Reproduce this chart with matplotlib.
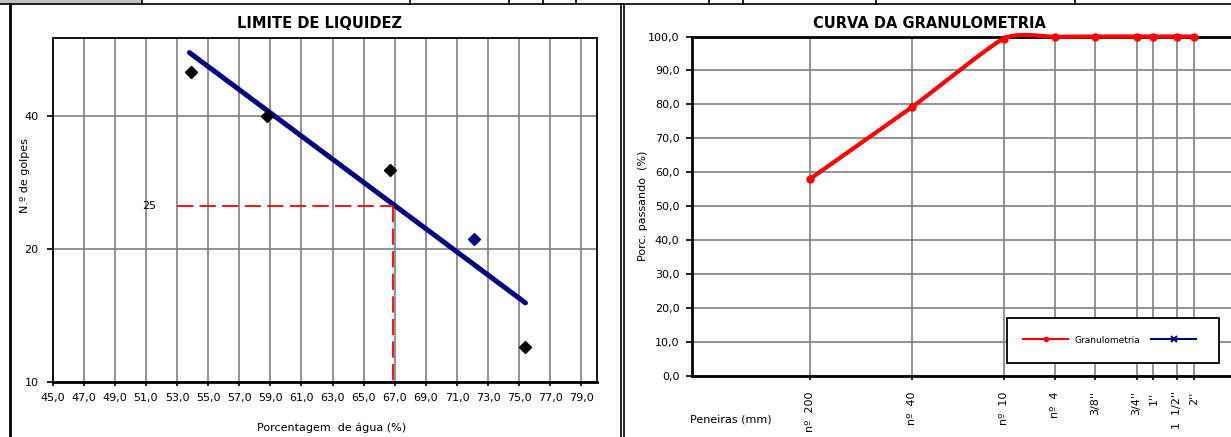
import numpy as np
import matplotlib
matplotlib.use("Agg")
import matplotlib.pyplot as plt
from matplotlib.lines import Line2D
from matplotlib.patches import Rectangle

# Limite de liquidez
umidade = [53.9, 58.8, 66.7, 75.4]
golpes = [50.3, 40.0, 30.2, 12.0]
umidade_extra = [72.1]
golpes_extra = [21.1]
trend_x = [53.8, 75.4]
trend_y = [55.6, 15.1]
ll_golpes = 25
ll_umidade = 66.9
ll_inicio = 53.0
x_ticks_ll = np.arange(45, 80, 2)

# Granulometria
peneiras = ["nº  200", "nº  40", "nº  10", "nº  4", "3/8''", "3/4''", "1''", "1  1/2''", "2''"]
aberturas = [0.074, 0.42, 2.0, 4.8, 9.5, 19.1, 25.4, 38.1, 50.8]
passando = [58.0, 79.2, 99.4, 99.9, 100.0, 100.0, 100.0, 100.0, 100.0]

W, H = 1231, 437
GRAY = "#808080"
NAVY = "#000080"


def smooth_curve(xs, ys, n=24, k=10):
    """Excel-like smoothed line (bezier through the points) in log10(x) space."""
    lx = np.log10(xs)
    ys = np.asarray(ys, float)
    px = np.concatenate([[lx[0]], lx, [lx[-1]]])
    py = np.concatenate([[ys[0]], ys, [ys[-1]]])
    out_x, out_y = [], []
    t = np.linspace(0, 1, n)
    for i in range(1, len(px) - 2):
        p0 = np.array([px[i], py[i]])
        p3 = np.array([px[i + 1], py[i + 1]])
        c1 = p0 + (np.array([px[i + 1], py[i + 1]]) - np.array([px[i - 1], py[i - 1]])) / k
        c2 = p3 - (np.array([px[i + 2], py[i + 2]]) - np.array([px[i], py[i]])) / k
        b = ((1 - t) ** 3)[:, None] * p0 + (3 * (1 - t) ** 2 * t)[:, None] * c1 \
            + (3 * (1 - t) * t ** 2)[:, None] * c2 + (t ** 3)[:, None] * p3
        out_x.extend(b[:, 0])
        out_y.extend(b[:, 1])
    return 10 ** np.array(out_x), np.array(out_y)


plt.rcParams["font.family"] = "DejaVu Sans"
fig = plt.figure(figsize=(W / 100, H / 100), dpi=100)

# ---------- LIMITE DE LIQUIDEZ ----------
ax1 = fig.add_axes([52.6 / W, 1 - 382 / H, (597 - 52.6) / W, 344 / H])
ax1.set_yscale("log")
ax1.set_xlim(45, 80)
ax1.set_ylim(10, 60)
ax1.set_xticks(x_ticks_ll)
ax1.set_xticklabels([f"{v:.1f}".replace(".", ",") for v in x_ticks_ll], fontsize=8)
ax1.set_yticks([10, 20, 40])
ax1.set_yticklabels(["10", "20", "40"], fontsize=8)
ax1.yaxis.set_minor_locator(matplotlib.ticker.NullLocator())
ax1.grid(True, color=GRAY, lw=1.2)
ax1.tick_params(axis="y", length=4, width=1.2, pad=6)
ax1.tick_params(axis="x", length=3, width=1.2, pad=5)
for s in ax1.spines.values():
    s.set_color("black")
    s.set_linewidth(1.3)
ax1.spines["bottom"].set_linewidth(2)

ax1.plot(trend_x, trend_y, color=NAVY, lw=3.6, solid_capstyle="round", zorder=3)
ax1.plot(umidade, golpes, "D", color="black", ms=6, zorder=4)
ax1.plot(umidade_extra, golpes_extra, "D", color=NAVY, ms=6, zorder=4)
ax1.plot([ll_inicio, ll_umidade], [ll_golpes, ll_golpes], color="red", lw=1.3,
         dashes=(9, 3.5), zorder=3)
ax1.plot([ll_umidade, ll_umidade], [ll_golpes, 10], color="red", lw=1.3,
         dashes=(9, 3.5), zorder=3)
ax1.text(51.2, ll_golpes, "25", fontsize=8, ha="center", va="center")

ax1.set_xlabel("Porcentagem  de água (%)", fontsize=8)
ax1.xaxis.set_label_coords(0.513, -0.119)
ax1.set_ylabel("N.º de golpes", fontsize=8)
ax1.yaxis.set_label_coords(-0.0415, 0.599)
fig.text(320 / W, 1 - 24 / H, "LIMITE DE LIQUIDEZ", fontsize=10.5,
         fontweight="bold", ha="center", va="center")

# ---------- CURVA DA GRANULOMETRIA ----------
ax2 = fig.add_axes([692 / W, 1 - 376 / H, 542 / W, 339.5 / H])
ax2.set_xscale("log")
ax2.set_xlim(0.01, 100)
ax2.set_ylim(0, 100)
ax2.set_xticks(aberturas)
ax2.set_xticklabels(peneiras, rotation=90, fontsize=8)
ax2.xaxis.set_minor_locator(matplotlib.ticker.NullLocator())
ax2.set_yticks(np.arange(0, 101, 10))
ax2.set_yticklabels([f"{v:.1f}".replace(".", ",") for v in np.arange(0, 101, 10)],
                    fontsize=8)
ax2.grid(True, color=GRAY, lw=1.2)
ax2.tick_params(axis="y", length=4, width=1.2, pad=5)
ax2.tick_params(axis="x", length=3, width=1.2, pad=8)
for s in ax2.spines.values():
    s.set_color("black")
    s.set_linewidth(2)

sx, sy = smooth_curve(aberturas, passando)
ax2.plot(sx, sy, color="red", lw=3, solid_capstyle="round", zorder=3, clip_on=False)
ax2.plot(aberturas, passando, "o", color="red", ms=5, zorder=4, clip_on=False)

ax2.set_ylabel("Porc. passando  (%)", fontsize=8)
ax2.yaxis.set_label_coords(-0.081, 0.5)
fig.text(690 / W, 1 - 419 / H, "Peneiras (mm)", fontsize=8, ha="left", va="center")
fig.text(929 / W, 1 - 24 / H, "CURVA DA GRANULOMETRIA", fontsize=10.5,
         fontweight="bold", ha="center", va="center")

h1 = Line2D([], [], color="red", lw=1.5, marker="o", ms=3)
h2 = Line2D([], [], color=NAVY, lw=1.5, marker="x", ms=4, mew=1.5)
leg = ax2.legend([h1, h2], ["Granulometria", ""], ncol=2, fontsize=6.5,
                 loc="upper right", bbox_to_anchor=(0.972, 0.171),
                 fancybox=False, edgecolor="black", framealpha=1,
                 handlelength=5, handleheight=1.8, handletextpad=0.7,
                 columnspacing=1.2, borderpad=1.8, borderaxespad=0)
leg.get_frame().set_linewidth(1.3)
leg.set_zorder(5)

# ---------- spreadsheet borders ----------
ov = fig.add_axes([0, 0, 1, 1], zorder=-1)
ov.set_xlim(0, W)
ov.set_ylim(H, 0)
ov.axis("off")
ov.add_patch(Rectangle((0, 0), 142, 3.5, color="#c0c0c0", lw=0))
ov.plot([0, W], [4, 4], color="black", lw=1.2)
for xv in [142, 410, 509, 543, 576, 709, 743, 876, 1075]:
    ov.plot([xv, xv], [0, 4], color="black", lw=1.2)
ov.plot([10, 10], [4, H], color="black", lw=2)
ov.plot([621, 621], [4, H], color="black", lw=1.2)
ov.plot([624, 624], [4, H], color="black", lw=1.2)

fig.savefig("out.png", dpi=100)
